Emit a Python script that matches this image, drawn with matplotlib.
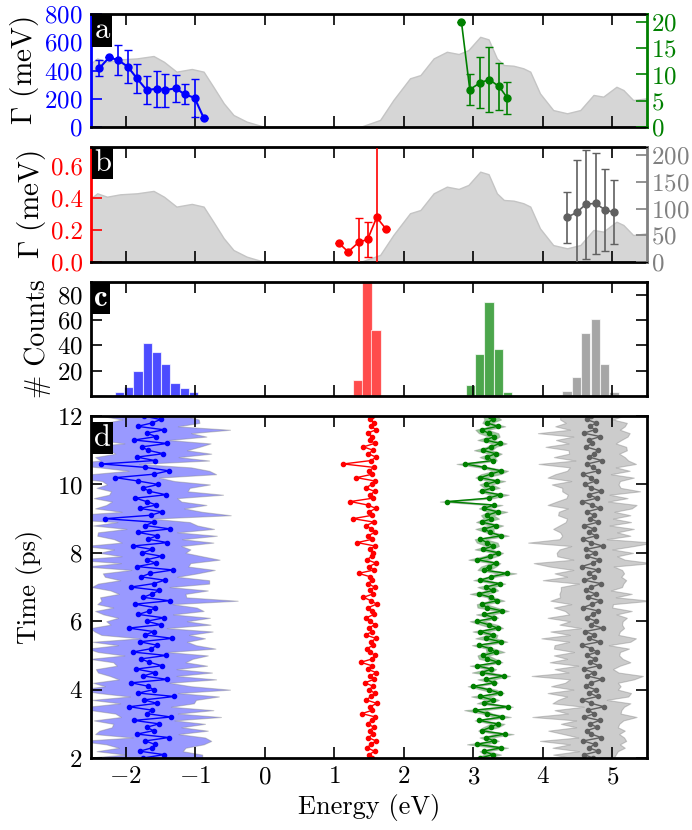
"""
Linewidth / energy tracking figure, four stacked panels:
a) broadening Gamma (meV) of two bands over a shaded DOS
b) same for the narrow bands
c) histogram of energies
d) energy trajectories vs time with spread bands
"""

import numpy as np
import matplotlib.pyplot as plt
from matplotlib.ticker import FormatStrFormatter

plt.rcParams['font.family'] = 'cmr10'
plt.rcParams['mathtext.fontset'] = 'cm'
plt.rcParams['axes.formatter.use_mathtext'] = True
plt.rcParams['font.size'] = 18

# ---------------- data ----------------
# shaded density of states (read in panel a units, meV)
dos_energy = [-2.50, -2.41, -2.27, -2.08, -1.84, -1.60, -1.45, -1.27, -1.05, -0.88,
              -0.74, -0.59, -0.45, -0.26, 0.00, 1.37, 1.66, 1.85, 2.09, 2.24,
              2.43, 2.62, 2.79, 2.93, 3.10, 3.22, 3.34, 3.44, 3.58, 3.72,
              3.82, 3.96, 4.15, 4.35, 4.54, 4.73, 4.87, 5.06, 5.16, 5.30, 5.50]
dos_value = [451, 486, 462, 479, 486, 503, 462, 392, 411, 392,
             285, 168, 85, 38, 0, 0, 50, 191, 345, 368,
             486, 533, 517, 545, 639, 621, 486, 439, 434, 416,
             392, 238, 120, 97, 120, 227, 215, 285, 262, 191, 203]

# panel a: blue (left axis, meV) and green (right axis)
blue_e = [-2.38, -2.24, -2.11, -1.97, -1.84, -1.70, -1.55, -1.43, -1.28, -1.15, -1.01, -0.88]
blue_gamma = [416, 493, 474, 427, 345, 262, 271, 262, 274, 231, 207, 66]
blue_err = [57, 0, 107, 118, 104, 99, 127, 117, 97, 71, 134, 0]

green_e = [2.83, 2.95, 3.10, 3.23, 3.37, 3.49]
green_gamma = [20.0, 7.13, 8.44, 9.03, 7.73, 5.54]
green_err = [0, 2.9, 4.8, 6.2, 4.4, 3.1]

# panel b: red (left axis, meV) and gray (right axis)
red_e = [1.07, 1.20, 1.35, 1.48, 1.61, 1.75]
red_gamma = [0.117, 0.064, 0.123, 0.142, 0.279, 0.204]
red_err = [0, 0, 0.15, 0.11, 0.60, 0]

gray_e = [4.35, 4.49, 4.62, 4.76, 4.90, 5.03]
gray_gamma = [83.5, 92.9, 108.0, 109.7, 97.0, 92.9]
gray_err = [48, 98, 102, 95, 77, 60]

# panel c: histogram bins (centers) and counts
hist_blue_e = [-2.355, -2.222, -2.089, -1.956, -1.823, -1.690, -1.557, -1.424, -1.291, -1.158, -1.025]
hist_blue_n = [1, 0, 3, 7, 20, 42, 35, 25, 10, 6, 3]
hist_red_e = [1.205, 1.340, 1.470, 1.600]
hist_red_n = [1, 13, 95, 52]
hist_green_e = [2.955, 3.090, 3.225, 3.360, 3.495]
hist_green_n = [9, 33, 74, 37, 3]
hist_gray_e = [4.350, 4.485, 4.620, 4.755, 4.890, 5.025]
hist_gray_n = [4, 15, 50, 61, 25, 3]

# panel d: trajectories, sampled every 0.1 ps from 2 to 12 ps
time_ps = np.round(np.linspace(2.0, 12.0, 101), 1)

blue_center = [
    -1.75, -1.45, -1.80, -1.62, -1.58, -1.72, -1.38, -1.84, -1.60, -1.70,
    -1.52, -1.88, -1.35, -1.70, -1.62, -1.95, -1.55, -1.74, -1.30, -1.82,
    -1.60, -1.68, -1.92, -1.40, -1.75, -1.58, -1.85, -1.48, -1.66, -1.78,
    -1.42, -1.90, -1.63, -1.55, -1.80, -1.33, -1.72, -1.60, -1.96, -1.50,
    -1.70, -1.45, -1.82, -1.66, -1.58, -1.87, -1.37, -1.75, -1.62, -1.52,
    -1.93, -1.60, -1.44, -1.78, -1.65, -1.32, -1.84, -1.57, -1.70, -1.48,
    -1.76, -1.62, -1.90, -1.40, -1.68, -1.55, -1.83, -1.36, -1.72, -1.60,
    -2.30, -1.64, -1.48, -1.80, -1.56, -1.70, -1.86, -1.42, -1.66, -1.75,
    -1.53, -1.82, -2.15, -1.60, -1.38, -1.72, -2.35, -1.58, -1.84, -1.46,
    -1.68, -1.77, -1.40, -1.88, -1.56, -1.70, -1.45, -1.83, -1.62, -1.50, -1.74]
blue_width = [
    0.85, 0.55, 0.62, 0.48, 0.70, 0.95, 0.52, 0.60, 0.78, 0.50,
    0.66, 0.58, 0.72, 0.45, 0.88, 0.60, 0.53, 0.75, 0.64, 0.57,
    1.10, 0.62, 0.55, 0.70, 0.48, 0.82, 0.58, 0.65, 0.52, 0.74,
    0.60, 0.50, 0.92, 0.56, 0.68, 0.47, 0.63, 0.85, 0.55, 0.72,
    0.58, 0.66, 0.50, 0.78, 0.60, 0.54, 0.98, 0.62, 0.48, 0.70,
    0.56, 0.80, 0.64, 0.52, 0.68, 0.60, 0.74, 0.50, 1.05, 0.58,
    0.62, 0.55, 0.70, 0.66, 0.49, 0.86, 0.57, 0.63, 0.75, 0.52,
    0.68, 1.15, 0.58, 0.64, 0.72, 0.50, 0.60, 0.82, 0.55, 0.67,
    0.74, 0.52, 0.63, 0.90, 0.58, 0.66, 0.54, 0.78, 0.60, 0.69,
    0.56, 0.83, 0.62, 0.50, 0.72, 0.64, 0.95, 0.58, 0.68, 0.55, 0.60]

red_center = [
    1.55, 1.50, 1.58, 1.47, 1.53, 1.60, 1.49, 1.56, 1.51, 1.57,
    1.48, 1.54, 1.59, 1.40, 1.55, 1.52, 1.61, 1.46, 1.53, 1.58,
    1.50, 1.56, 1.44, 1.57, 1.52, 1.60, 1.48, 1.54, 1.38, 1.55,
    1.59, 1.51, 1.47, 1.56, 1.53, 1.60, 1.45, 1.55, 1.50, 1.58,
    1.52, 1.46, 1.57, 1.54, 1.49, 1.61, 1.53, 1.42, 1.56, 1.51,
    1.58, 1.48, 1.55, 1.52, 1.35, 1.57, 1.50, 1.60, 1.47, 1.54,
    1.56, 1.51, 1.59, 1.33, 1.55, 1.49, 1.58, 1.53, 1.46, 1.57,
    1.27, 1.55, 1.50, 1.60, 1.48, 1.23, 1.56, 1.52, 1.58, 1.45,
    1.54, 1.59, 1.32, 1.55, 1.50, 1.57, 1.13, 1.53, 1.60, 1.49,
    1.56, 1.42, 1.58, 1.52, 1.55, 1.48, 1.60, 1.53, 1.57, 1.51, 1.55]

green_center = [
    3.10, 3.28, 3.15, 3.40, 3.05, 3.30, 3.18, 3.45, 3.12, 3.25,
    3.35, 3.08, 3.42, 3.20, 3.02, 3.50, 3.15, 3.28, 3.10, 3.38,
    3.22, 3.00, 3.30, 3.18, 3.44, 3.12, 3.26, 3.05, 3.36, 3.20,
    3.14, 3.32, 3.24, 3.08, 3.40, 3.18, 3.28, 3.10, 3.35, 3.22,
    3.05, 3.30, 3.16, 3.42, 3.20, 3.12, 3.34, 3.25, 3.08, 3.28,
    3.18, 3.38, 3.10, 3.26, 3.48, 3.15, 3.22, 3.32, 3.06, 3.24,
    3.36, 3.14, 3.28, 3.20, 3.10, 3.40, 3.24, 3.16, 3.33, 3.12,
    3.26, 3.20, 3.35, 3.15, 3.30, 2.62, 3.22, 3.38, 3.12, 3.27,
    3.18, 3.34, 3.10, 3.25, 3.40, 3.16, 2.88, 3.28, 3.20, 3.32,
    3.14, 3.26, 3.38, 3.18, 3.30, 3.22, 3.12, 3.35, 3.20, 3.28, 3.24]
green_width = [
    0.08, 0.12, 0.06, 0.10, 0.14, 0.07, 0.09, 0.13, 0.05, 0.11,
    0.10, 0.06, 0.12, 0.08, 0.15, 0.07, 0.10, 0.09, 0.13, 0.06,
    0.11, 0.08, 0.05, 0.12, 0.09, 0.14, 0.07, 0.10, 0.06, 0.12,
    0.08, 0.13, 0.06, 0.10, 0.09, 0.15, 0.07, 0.11, 0.08, 0.12,
    0.10, 0.06, 0.12, 0.09, 0.14, 0.07, 0.11, 0.05, 0.13, 0.08,
    0.12, 0.08, 0.10, 0.06, 0.14, 0.09, 0.11, 0.07, 0.13, 0.10,
    0.07, 0.12, 0.09, 0.15, 0.08, 0.11, 0.06, 0.13, 0.10, 0.08,
    0.11, 0.09, 0.14, 0.07, 0.12, 0.10, 0.08, 0.13, 0.06, 0.11,
    0.09, 0.12, 0.07, 0.14, 0.10, 0.08, 0.12, 0.06, 0.11, 0.09,
    0.13, 0.07, 0.10, 0.12, 0.08, 0.14, 0.09, 0.11, 0.07, 0.12, 0.10]

gray_center = [
    4.72, 4.60, 4.80, 4.66, 4.75, 4.58, 4.84, 4.70, 4.63, 4.78,
    4.68, 4.82, 4.60, 4.74, 4.65, 4.88, 4.70, 4.57, 4.79, 4.67,
    4.76, 4.62, 4.70, 4.85, 4.64, 4.73, 4.59, 4.81, 4.68, 4.75,
    4.63, 4.78, 4.70, 4.56, 4.82, 4.66, 4.74, 4.61, 4.86, 4.69,
    4.77, 4.64, 4.72, 4.80, 4.58, 4.71, 4.83, 4.65, 4.76, 4.62,
    4.70, 4.84, 4.60, 4.74, 4.67, 4.79, 4.56, 4.72, 4.81, 4.64,
    4.75, 4.62, 4.86, 4.69, 4.58, 4.77, 4.66, 4.73, 4.60, 4.80,
    4.68, 4.74, 4.63, 4.82, 4.71, 4.57, 4.78, 4.66, 4.84, 4.70,
    4.61, 4.76, 4.69, 4.58, 4.80, 4.72, 4.64, 4.85, 4.67, 4.74,
    4.79, 4.62, 4.71, 4.66, 4.83, 4.59, 4.75, 4.68, 4.77, 4.63, 4.70]
gray_width = [
    0.30, 0.45, 0.28, 0.52, 0.36, 0.62, 0.33, 0.40, 0.55, 0.30,
    0.42, 0.34, 0.75, 0.38, 0.48, 0.29, 0.56, 0.35, 0.44, 0.60,
    0.32, 0.50, 0.38, 0.46, 0.80, 0.36, 0.42, 0.30, 0.58, 0.40,
    0.47, 0.33, 0.54, 0.39, 0.44, 0.68, 0.35, 0.50, 0.31, 0.45,
    0.38, 0.57, 0.34, 0.48, 0.42, 0.30, 0.72, 0.40, 0.52, 0.36,
    0.44, 0.32, 0.60, 0.39, 0.50, 0.35, 0.46, 0.85, 0.37, 0.43,
    0.55, 0.38, 0.45, 0.90, 0.34, 0.49, 0.41, 0.58, 0.36, 0.47,
    0.33, 0.52, 0.40, 0.46, 0.64, 0.37, 0.44, 0.30, 0.56, 0.42,
    0.48, 0.35, 0.62, 0.40, 0.45, 0.33, 0.70, 0.38, 0.51, 0.36,
    0.42, 0.58, 0.34, 0.47, 0.39, 0.66, 0.36, 0.50, 0.44, 0.38, 0.45]

energy_ticks = [-2, -1, 0, 1, 2, 3, 4, 5]

# ---------------- helpers ----------------
DOS_FILL = '#d6d6d6'
DOS_EDGE = '#c4c4c4'


def style_axis(ax):
    """Thick frame, inward ticks on all sides, shared energy range"""
    ax.set_xlim(-2.5, 5.5)
    ax.set_xticks(energy_ticks)
    for sp in ax.spines.values():
        sp.set_linewidth(2)
    ax.tick_params(direction='in', length=8, width=1.2, top=True,
                   labelsize=18, pad=6)


def panel_tag(ax, letter, family='cmr10'):
    ax.text(0.006, 0.975, letter, transform=ax.transAxes, ha='left', va='top',
            color='white', fontsize=22, family=family, zorder=10,
            bbox=dict(facecolor='black', edgecolor='none', pad=1.5))


def color_twin(ax, ax2, lcol, rcol):
    """Color left spine/ticks of ax and right spine/ticks of the twin"""
    ax.spines['left'].set_color(lcol)
    ax.spines['right'].set_visible(False)
    ax2.spines['left'].set_visible(False)
    ax2.spines['right'].set_color(rcol)
    ax2.spines['right'].set_linewidth(2)
    ax.tick_params(axis='y', colors=lcol, right=False)
    ax2.tick_params(axis='y', colors=rcol, direction='in', length=8,
                    width=1.2, labelsize=18, pad=3)


fig = plt.figure(figsize=(6.92, 8.30), dpi=100)
L, W = 0.1315, 0.8035
ax_a = fig.add_axes([L, 0.847, W, 0.136])
ax_b = fig.add_axes([L, 0.6843, W, 0.1386])
ax_c = fig.add_axes([L, 0.5229, W, 0.1373])
ax_d = fig.add_axes([L, 0.0867, W, 0.412])

dos_e = np.array(dos_energy)
dos_v = np.array(dos_value)

# ---------------- panel a ----------------
style_axis(ax_a)
ax_a.fill_between(dos_e, 0, dos_v, facecolor=DOS_FILL, edgecolor=DOS_EDGE, lw=1, zorder=0)
ax_a.errorbar(blue_e, blue_gamma, yerr=blue_err, color='blue', marker='o', ms=5,
              lw=1.5, capsize=3, elinewidth=1.2, zorder=3)
ax_a.set_ylim(0, 800)
ax_a.set_yticks([0, 200, 400, 600, 800])
ax_a.set_xticklabels([])
ax_a.set_ylabel(r'$\Gamma$ (meV)', fontsize=21, labelpad=2)
ax_a2 = ax_a.twinx()
ax_a2.errorbar(green_e, green_gamma, yerr=green_err, color='green', marker='o', ms=5,
               lw=1.2, capsize=3, elinewidth=1.2)
ax_a2.set_ylim(0, 21.5)
ax_a2.set_yticks([0, 5, 10, 15, 20])
color_twin(ax_a, ax_a2, 'blue', 'green')
panel_tag(ax_a, 'a')

# ---------------- panel b ----------------
style_axis(ax_b)
ax_b.fill_between(dos_e, 0, dos_v / 1130.0, facecolor=DOS_FILL, edgecolor=DOS_EDGE, lw=1, zorder=0)
ax_b.errorbar(red_e, red_gamma, yerr=red_err, color='red', marker='o', ms=5,
              lw=1.2, capsize=3, elinewidth=1.2, zorder=3)
ax_b.set_ylim(0, 0.72)
ax_b.set_yticks([0.0, 0.2, 0.4, 0.6])
ax_b.yaxis.set_major_formatter(FormatStrFormatter('%.1f'))
ax_b.set_xticklabels([])
ax_b.set_ylabel(r'$\Gamma$ (meV)', fontsize=21, labelpad=2)
ax_b2 = ax_b.twinx()
ax_b2.errorbar(gray_e, gray_gamma, yerr=gray_err, color='#606060', marker='o', ms=5,
               lw=1.2, capsize=3, elinewidth=1.2)
ax_b2.set_ylim(0, 215)
ax_b2.set_yticks([0, 50, 100, 150, 200])
color_twin(ax_b, ax_b2, 'red', 'gray')
panel_tag(ax_b, 'b')

# ---------------- panel c ----------------
style_axis(ax_c)
bw = 0.133
for e, n, col in [(hist_blue_e, hist_blue_n, 'blue'), (hist_red_e, hist_red_n, 'red'),
                  (hist_green_e, hist_green_n, 'green'), (hist_gray_e, hist_gray_n, 'gray')]:
    ax_c.bar(e, n, width=bw, color=col, alpha=0.7, edgecolor='white', lw=0.8)
ax_c.set_ylim(0, 90)
ax_c.set_yticks([20, 40, 60, 80])
ax_c.tick_params(axis='y', right=True)
ax_c.set_xticklabels([])
ax_c.set_ylabel('# Counts', fontsize=20, labelpad=4)
panel_tag(ax_c, 'c', family='cmb10')

# ---------------- panel d ----------------
style_axis(ax_d)
t = time_ps
for c, w, col, line_col in [(blue_center, blue_width, 'blue', 'blue'),
                            (green_center, green_width, 'green', 'green'),
                            (gray_center, gray_width, 'gray', '#606060')]:
    c = np.array(c)
    w = np.array(w)
    ax_d.fill_betweenx(t, c - w, c + w, facecolor=col, alpha=0.4,
                       edgecolor='#808080', lw=0.8)
    ax_d.plot(c, t, '-o', color=line_col, lw=1, ms=3)
ax_d.plot(red_center, t, '-o', color='red', lw=1, ms=3)
ax_d.set_ylim(2, 12)
ax_d.set_yticks([2, 4, 6, 8, 10, 12])
ax_d.tick_params(axis='y', right=True)
ax_d.set_xlabel('Energy (eV)', fontsize=19)
ax_d.set_ylabel('Time (ps)', fontsize=19, labelpad=10)
panel_tag(ax_d, 'd')

fig.savefig('out.png', dpi=100)
